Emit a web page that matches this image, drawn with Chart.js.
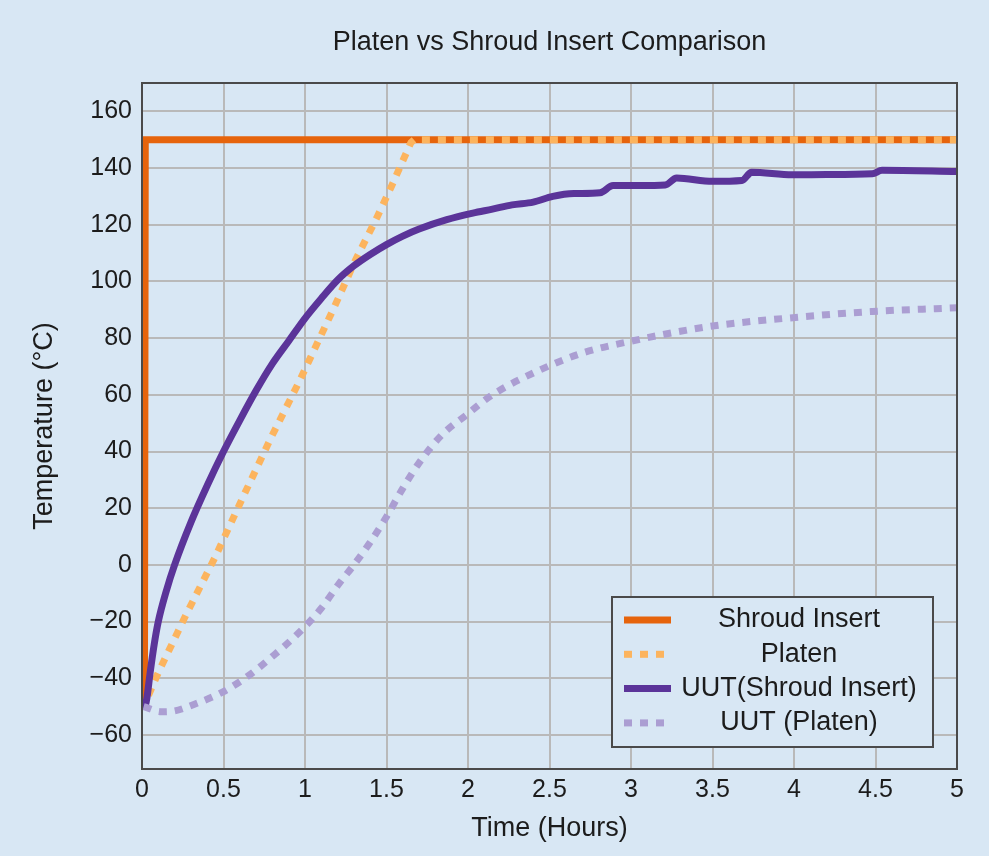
<!DOCTYPE html>
<html lang="en">
<head>
    <meta charset="UTF-8">
    <title>Platen vs Shroud Insert Comparison</title>
    <script src="https://cdn.jsdelivr.net/npm/chart.js"></script>
    <style>
        body { margin: 0; background: #d8e7f4; }
    </style>
</head>
<body>
    <canvas id="myChart" width="989" height="856"></canvas>
    <script>
        // Données (heures, °C)
        const shroudTime = [0.015, 0.02, 5];
        const shroudTemp = [-48, 150, 150];

        const platenTime = [0.04, 0.1, 0.27, 0.45, 0.62, 0.79, 0.97, 1.18, 1.31, 1.44, 1.53, 1.65, 1.67, 5];
        const platenTemp = [-46, -38, -17.6, 2.9, 24, 44.7, 65.3, 91, 107.6, 122.4, 133.5, 149, 150, 150];

        const uutShroudTime = [0.015, 0.03, 0.05, 0.075, 0.1, 0.15, 0.2, 0.3, 0.4, 0.5, 0.6, 0.7, 0.8, 0.9, 1.0,
            1.1, 1.2, 1.3, 1.4, 1.5, 1.6, 1.7, 1.87, 2.03, 2.15, 2.27, 2.4, 2.52, 2.65, 2.81, 2.89, 3.05, 3.21, 3.28,
            3.5, 3.68, 3.74, 3.99, 4.2, 4.48, 4.54, 5];
        const uutShroudTemp = [-51, -47, -38, -28, -20, -9, 0, 15, 28, 40, 51, 61.5, 71, 79, 87,
            94, 100.5, 105.5, 109.5, 113, 116, 118.5, 121.8, 124.1, 125.5, 127, 128, 130, 131, 131.3, 133.8, 133.8, 134, 136.5,
            135.3, 135.6, 138.5, 137.6, 137.7, 138, 139.2, 138.8];

        const uutPlatenTime = [0.01, 0.12, 0.2, 0.31, 0.5, 0.66, 0.81, 0.97, 1.1, 1.21, 1.3, 1.4, 1.5, 1.6, 1.7, 1.84,
            1.99, 2.15, 2.42, 2.7, 2.99, 3.48, 3.97, 4.48, 5];
        const uutPlatenTemp = [-50, -51.8, -51.5, -49.4, -44.7, -38.8, -31.8, -23.5, -15.3, -6.5, 0, 8, 17, 27, 36, 45.9,
            52.9, 60, 68.2, 74.7, 78.8, 84.1, 87.1, 89.4, 90.7];

        // Graduations
        const xTicks = [0, 0.5, 1, 1.5, 2, 2.5, 3, 3.5, 4, 4.5, 5];
        const xTickLabels = ['0', '0.5', '1', '1.5', '2', '2.5', '3', '3.5', '4', '4.5', '5'];
        const yTicks = [-60, -40, -20, 0, 20, 40, 60, 80, 100, 120, 140, 160];
        const yTickLabels = ['\u221260', '\u221240', '\u221220', '0', '20', '40', '60', '80', '100', '120', '140', '160'];

        const chartTitle = 'Platen vs Shroud Insert Comparison';
        const bg = '#d8e7f4';
        const fontFamily = '"Liberation Sans", Arial, sans-serif';
        const textColor = '#1c1c1c';

        function toPoints(xs, ys) {
            return xs.map((x, i) => ({ x: x, y: ys[i] }));
        }

        // Fond, titre, cadre et légende dessinés à la main (légende à l'intérieur du graphique)
        const framePlugin = {
            id: 'frame',
            beforeDraw(chart) {
                const ctx = chart.ctx;
                const a = chart.chartArea;
                ctx.save();
                ctx.fillStyle = bg;
                ctx.fillRect(0, 0, chart.width, chart.height);
                // titre centré sur la zone de tracé
                ctx.fillStyle = textColor;
                ctx.font = '27px ' + fontFamily;
                ctx.textAlign = 'center';
                ctx.textBaseline = 'middle';
                ctx.fillText(chartTitle, (a.left + a.right) / 2, 43);
                ctx.restore();
            },
            afterDatasetsDraw(chart) {
                const ctx = chart.ctx;
                const a = chart.chartArea;
                ctx.save();
                ctx.strokeStyle = '#4a4a4a';
                ctx.lineWidth = 2;
                ctx.strokeRect(a.left, a.top, a.right - a.left, a.bottom - a.top);

                const w = 321, h = 150;
                const x0 = a.right - 24 - w;
                const y0 = a.bottom - 22 - h;
                ctx.fillStyle = bg;
                ctx.fillRect(x0, y0, w, h);
                ctx.strokeRect(x0, y0, w, h);

                chart.data.datasets.forEach((ds, i) => {
                    const y = y0 + 23 + i * 34.3;
                    ctx.beginPath();
                    ctx.setLineDash(ds.borderDash || []);
                    ctx.lineCap = 'butt';
                    ctx.lineWidth = ds.borderWidth;
                    ctx.strokeStyle = ds.borderColor;
                    ctx.moveTo(x0 + 12, y);
                    ctx.lineTo(x0 + 59, y);
                    ctx.stroke();
                    ctx.setLineDash([]);
                    ctx.fillStyle = textColor;
                    ctx.font = '27px ' + fontFamily;
                    ctx.textAlign = 'center';
                    ctx.textBaseline = 'middle';
                    ctx.fillText(ds.label, x0 + 187, y);
                });
                ctx.restore();
            }
        };

        const ctx = document.getElementById('myChart').getContext('2d');
        const myChart = new Chart(ctx, {
            type: 'line',
            data: {
                datasets: [
                    {
                        label: 'Shroud Insert',
                        data: toPoints(shroudTime, shroudTemp),
                        borderColor: '#e6640c',
                        borderWidth: 7,
                        tension: 0,
                        order: 3
                    },
                    {
                        label: 'Platen',
                        data: toPoints(platenTime, platenTemp),
                        borderColor: '#fcb45e',
                        borderWidth: 7,
                        borderDash: [8, 8],
                        tension: 0,
                        order: 2
                    },
                    {
                        label: 'UUT(Shroud Insert)',
                        data: toPoints(uutShroudTime, uutShroudTemp),
                        borderColor: '#5b3499',
                        borderWidth: 7,
                        cubicInterpolationMode: 'monotone',
                        order: 1
                    },
                    {
                        label: 'UUT (Platen)',
                        data: toPoints(uutPlatenTime, uutPlatenTemp),
                        borderColor: '#ab9ed2',
                        borderWidth: 7,
                        borderDash: [8, 8],
                        cubicInterpolationMode: 'monotone',
                        order: 0
                    }
                ]
            },
            options: {
                responsive: false,
                animation: false,
                layout: { padding: { left: 0, right: 32, top: 83, bottom: 0 } },
                elements: {
                    point: { radius: 0 },
                    line: { borderCapStyle: 'butt', fill: false }
                },
                scales: {
                    x: {
                        type: 'linear',
                        min: 0,
                        max: 5,
                        afterBuildTicks: (scale) => { scale.ticks = xTicks.map(v => ({ value: v })); },
                        afterFit: (scale) => { scale.height = 87; },
                        ticks: {
                            callback: (value, index) => xTickLabels[index],
                            color: textColor,
                            font: { size: 25, family: fontFamily },
                            padding: 6,
                            maxRotation: 0
                        },
                        grid: { color: '#b9b9b9', lineWidth: 2, drawTicks: false },
                        border: { display: false },
                        title: {
                            display: true,
                            text: 'Time (Hours)',
                            color: textColor,
                            font: { size: 27, family: fontFamily },
                            padding: { top: 0, bottom: 11 }
                        }
                    },
                    y: {
                        type: 'linear',
                        min: -72,
                        max: 170,
                        afterBuildTicks: (scale) => { scale.ticks = yTicks.map(v => ({ value: v })); },
                        afterFit: (scale) => { scale.width = 142; },
                        ticks: {
                            callback: (value, index) => yTickLabels[index],
                            color: textColor,
                            font: { size: 25, family: fontFamily },
                            padding: 10
                        },
                        grid: { color: '#b9b9b9', lineWidth: 2, drawTicks: false },
                        border: { display: false },
                        title: {
                            display: true,
                            text: 'Temperature (\u00B0C)',
                            color: textColor,
                            font: { size: 27, family: fontFamily },
                            padding: { top: 28, bottom: 0 }
                        }
                    }
                },
                plugins: {
                    legend: { display: false },
                    tooltip: { enabled: false },
                    title: { display: false }
                }
            },
            plugins: [framePlugin]
        });
    </script>
</body>
</html>
